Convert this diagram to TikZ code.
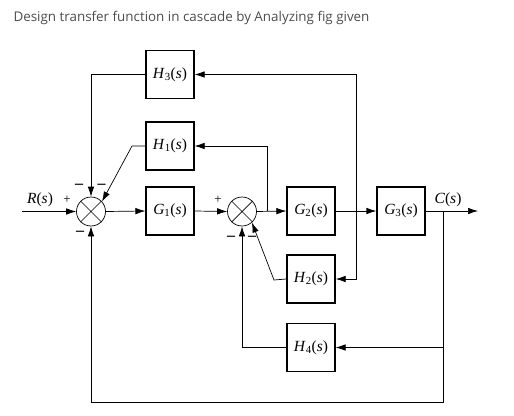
\documentclass[tikz,border=0pt]{standalone}
\usepackage{fontspec}
\newfontfamily\titlefont{Open Sans}
\newfontfamily\blkfont{Liberation Serif}
\newcommand{\tf}[2]{\textit{#1}\textsubscript{#2}(\textit{s})}
\usetikzlibrary{arrows.meta}
\begin{document}
\begin{tikzpicture}[x=1pt,y=-1pt,
		blk/.style={draw, line width=1.2pt, minimum width=48pt, minimum height=48pt, inner sep=0pt, font=\blkfont\fontsize{15.5}{17}\selectfont},
		lbl/.style={inner sep=0pt, font=\blkfont\fontsize{15.5}{17}\selectfont},
		sumj/.style={draw, circle, line width=0.7pt, minimum size=29pt, inner sep=0pt},
		sgn/.style={inner sep=0pt, font=\blkfont\fontsize{13}{14}\selectfont},
		neg/.style={inner sep=0pt, font=\blkfont\bfseries\fontsize{16}{17}\selectfont},
		wire/.style={line width=0.7pt, -{Latex[length=10pt,width=6.5pt]}}]
	\useasboundingbox (0,0) rectangle (514,415);
	\node[anchor=west, text=black!70, font=\titlefont\fontsize{13.4}{15}\selectfont] (title) at (10,18) {Design transfer function in cascade by Analyzing fig given};
	
	% blocks
	\node[blk] (h3) at (170,74.5) {\tf{H}{3}};
	\node[blk] (h1) at (170,146) {\tf{H}{1}};
	\node[blk] (g1) at (170,211) {\tf{G}{1}};
	\node[blk] (g2) at (311,211) {\tf{G}{2}};
	\node[blk] (g3) at (401,211) {\tf{G}{3}};
	\node[blk] (h2) at (311,279) {\tf{H}{2}};
	\node[blk] (h4) at (311,347.5) {\tf{H}{4}};
	
	% summing junctions
	\node[sumj] (s1) at (91,211.5) {};
	\node[sumj] (s2) at (242,211.5) {};
	\draw[line width=0.7pt] (s1.north west) -- (s1.south east) (s1.north east) -- (s1.south west);
	\draw[line width=0.7pt] (s2.north west) -- (s2.south east) (s2.north east) -- (s2.south west);
	
	% points
	\coordinate (in) at (22,211.5);
	\coordinate (out) at (478,211);
	\coordinate (t1) at (267,211);
	\coordinate (t3) at (356,211);
	\coordinate (tc) at (443,211);
	\coordinate (k1) at (132,146);
	\coordinate (k2) at (274,280);
	\coordinate (bot) at (443,402);
	
	% forward path
	\draw[wire] (in) -- (s1.west);
	\draw[wire] (s1.east) -- (g1.west);
	\draw[wire] (g1.east) -- (s2.west);
	\draw[wire] (s2.east) -- (g2.west);
	\draw[wire] (g2.east) -- (g3.west);
	\draw[wire] (g3.east) -- (out);
	
	% feedback
	\draw[wire] (t1) |- (h1.east);
	\draw[wire] (h1.west) -- (k1) -- (s1.42);
	\draw[wire] (t3) |- (h3.east);
	\draw[wire] (h3.west) -| (s1.north);
	\draw[wire] (t3) |- (h2.east);
	\draw[wire] (h2.west) -- (k2) -- (s2.-48);
	\draw[wire] (tc) |- (h4.east);
	\draw[wire] (h4.west) -| (s2.south);
	\draw[wire] (tc) -- (bot) -| (s1.south);
	
	% labels
	\node[lbl] (rs) at (40,200) {\textit{R}(\textit{s})};
	\node[lbl] (cs) at (448,200) {\textit{C}(\textit{s})};
	\node[sgn] (p1) at (67,200) {+};
	\node[neg] (m1) at (79,186.5) {\textendash};
	\node[neg] (m2) at (101.5,186.5) {\textendash};
	\node[neg] (m3) at (80,233) {\textendash};
	\node[sgn] (p2) at (218,200) {+};
	\node[neg] (m4) at (231,238) {\textendash};
	\node[neg] (m5) at (252,238) {\textendash};
\end{tikzpicture}
\end{document}
